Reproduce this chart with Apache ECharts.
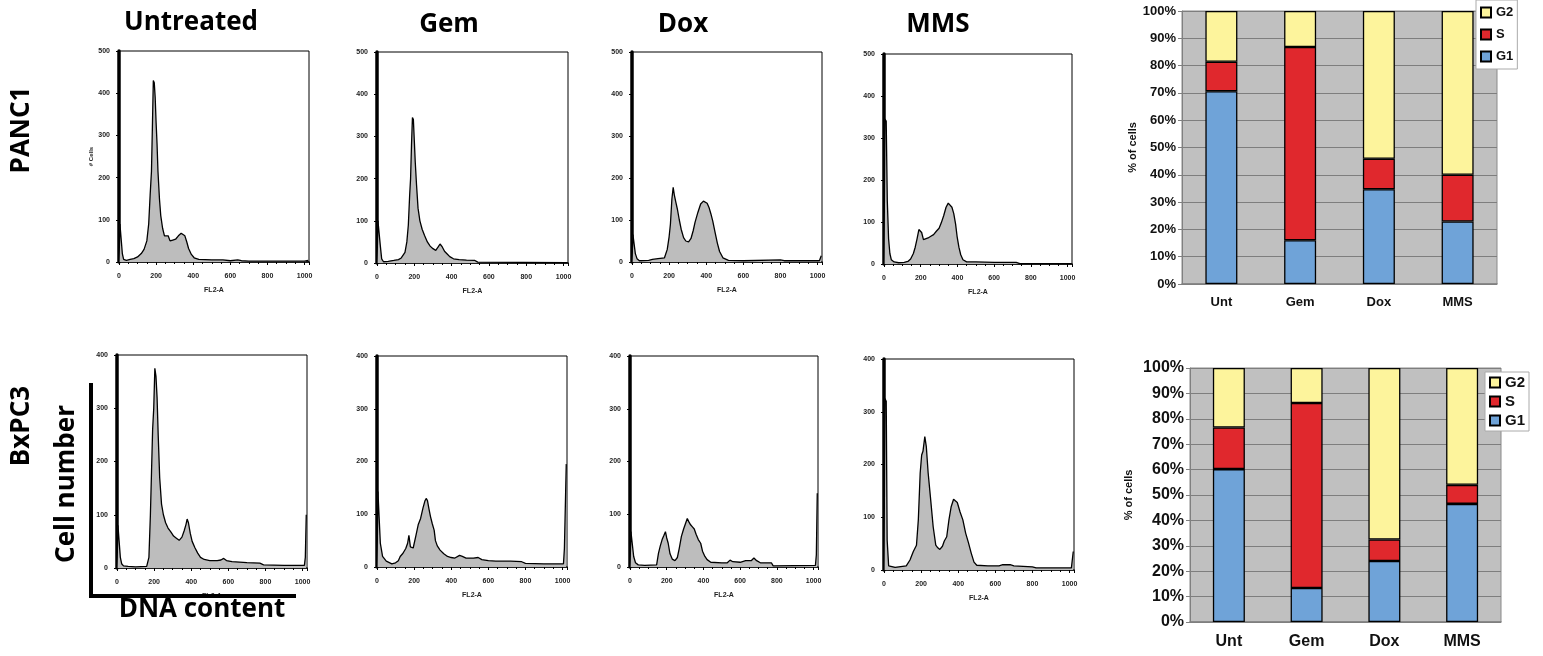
<!DOCTYPE html>
<html>
<head>
<meta charset="utf-8">
<script src="https://cdn.jsdelivr.net/npm/echarts@6/dist/echarts.min.js"></script>
<style>
  html, body { margin: 0; padding: 0; background: #fff; }
  #main { width: 1543px; height: 656px; }
</style>
</head>
<body>
<div id="main"></div>
<script>
// histogram data, [channel FL2-A, # cells]
const panc1Unt = [[0,0],[5,90],[12,88],[18,20],[25,6],[40,4],[60,6],[80,8],[100,12],[120,20],[135,30],[150,50],[160,90],[168,160],[175,215],[180,320],[185,430],[190,425],[195,390],[200,330],[205,280],[210,215],[218,150],[225,110],[235,80],[245,62],[255,58],[265,62],[275,50],[290,52],[305,54],[320,62],[335,68],[345,72],[355,62],[365,48],[375,32],[390,18],[405,10],[430,6],[500,5],[560,5],[600,3],[640,5],[660,3],[700,2],[1000,2],[1020,4]];
const panc1Gem = [[0,0],[5,100],[12,100],[18,40],[25,10],[35,3],[60,4],[90,6],[115,8],[130,12],[150,25],[160,50],[168,90],[175,160],[180,200],[185,280],[190,345],[195,340],[200,290],[205,240],[212,185],[220,130],[230,100],[242,80],[255,65],[270,50],[285,40],[300,34],[315,30],[328,38],[338,45],[350,38],[362,28],[375,22],[390,15],[410,10],[440,8],[480,7],[525,6],[540,2],[1020,1]];
const panc1Dox = [[0,0],[5,65],[12,65],[18,20],[27,8],[40,3],[90,4],[110,6],[140,8],[175,10],[190,30],[200,60],[207,90],[215,150],[222,178],[228,160],[235,145],[245,125],[255,100],[265,78],[278,58],[290,50],[305,48],[318,56],[330,75],[340,95],[355,118],[370,138],[385,145],[395,148],[405,140],[415,130],[425,115],[435,98],[448,70],[460,45],[472,25],[490,10],[520,4],[600,3],[800,5],[820,3],[1010,3],[1020,15]];
const panc1Mms = [[0,0],[5,345],[12,340],[18,150],[25,60],[32,25],[40,10],[55,5],[80,3],[110,4],[130,6],[145,12],[160,25],[170,40],[180,60],[190,82],[198,85],[205,75],[215,58],[225,55],[240,62],[255,66],[270,70],[285,78],[300,85],[312,98],[325,115],[338,135],[350,145],[360,142],[370,135],[380,120],[390,95],[398,66],[408,40],[418,22],[430,10],[450,5],[500,5],[600,4],[720,4],[740,1],[1020,1]];
const bxpc3Unt = [[0,0],[5,80],[12,78],[18,20],[25,8],[35,4],[60,3],[100,2],[160,3],[172,20],[180,100],[186,180],[192,260],[198,300],[204,375],[210,360],[216,320],[222,250],[230,170],[240,120],[250,100],[262,85],[275,75],[290,68],[305,60],[320,56],[335,52],[350,58],[362,70],[372,82],[378,92],[385,85],[395,65],[405,50],[420,38],[435,28],[450,20],[470,16],[500,14],[540,14],[560,15],[575,18],[590,14],[620,12],[700,10],[770,9],[790,6],[900,5],[1010,5],[1015,20],[1020,100]];
const bxpc3Gem = [[0,0],[5,143],[12,140],[18,45],[30,20],[50,11],[80,6],[100,8],[115,12],[125,20],[140,26],[155,35],[165,45],[172,60],[180,38],[195,36],[210,60],[222,80],[235,92],[248,112],[258,125],[265,130],[272,126],[280,110],[288,96],[298,82],[308,70],[315,50],[325,40],[340,32],[360,25],[380,20],[400,18],[420,17],[445,22],[460,20],[480,17],[520,17],[545,18],[565,14],[600,12],[640,11],[720,11],[780,10],[800,7],[900,6],[1005,6],[1010,35],[1020,195]];
const bxpc3Dox = [[0,0],[5,67],[12,65],[20,20],[30,8],[45,4],[80,3],[145,4],[155,26],[165,40],[175,52],[185,60],[193,67],[200,55],[208,45],[218,25],[230,15],[245,12],[258,18],[268,35],[280,58],[292,72],[302,82],[312,92],[320,86],[330,80],[340,76],[350,72],[360,62],[372,52],[385,45],[395,30],[408,20],[420,14],[440,9],[500,8],[530,8],[545,13],[560,10],[600,9],[630,12],[660,12],[675,17],[690,12],[710,8],[770,8],[780,2],[1010,3],[1015,23],[1020,140]];
const bxpc3Mms = [[0,0],[5,325],[12,320],[17,57],[25,8],[60,5],[120,8],[140,19],[158,35],[175,47],[185,95],[195,184],[203,218],[210,225],[220,253],[228,234],[238,184],[250,139],[265,82],[279,47],[290,42],[301,39],[315,45],[325,55],[338,63],[350,95],[362,120],[375,134],[385,136],[395,128],[410,110],[425,95],[440,70],[455,52],[470,32],[485,15],[500,9],[560,8],[620,8],[640,10],[680,10],[700,8],[800,6],[820,4],[1010,4],[1020,35]];

// cell cycle distribution (% of cells)
const treatments = ['Unt', 'Gem', 'Dox', 'MMS'];
const panc1G1 = [70.6, 16.0, 34.7, 22.9];
const panc1S = [10.8, 70.8, 11.2, 17.1];
const panc1G2 = [18.6, 13.2, 54.1, 60.0];
const bxpc3G1 = [60.2, 13.4, 24.0, 46.5];
const bxpc3S = [16.4, 72.8, 8.5, 7.5];
const bxpc3G2 = [23.4, 13.8, 67.5, 46.0];

const chart = echarts.init(document.getElementById('main'));

const histData = [panc1Unt, panc1Gem, panc1Dox, panc1Mms, bxpc3Unt, bxpc3Gem, bxpc3Dox, bxpc3Mms];
const histGrids = [
  { left: 119, top: 51, width: 190, height: 211 },
  { left: 377, top: 52, width: 191, height: 211 },
  { left: 632, top: 52, width: 190, height: 210 },
  { left: 884, top: 54, width: 188, height: 210 },
  { left: 117, top: 355, width: 190, height: 213 },
  { left: 377, top: 356, width: 190, height: 211 },
  { left: 630, top: 356, width: 188, height: 211 },
  { left: 884, top: 359, width: 190, height: 211 }
];

const tickFont = { fontSize: 7, fontWeight: 'bold', color: '#222', fontFamily: 'Liberation Sans' };
const plain = function (v) { return String(v); };

const grids = [], xAxes = [], yAxes = [], series = [];

histGrids.forEach(function (g, i) {
  grids.push(Object.assign({ show: true, borderColor: '#000', borderWidth: 1, backgroundColor: '#fff' }, g));
  xAxes.push({
    type: 'value', gridIndex: i, min: 0, max: 1024, interval: 200,
    name: 'FL2-A', nameLocation: 'middle', nameGap: 25,
    nameTextStyle: tickFont,
    axisLine: { lineStyle: { color: '#000', width: 1.5 } },
    axisTick: { lineStyle: { color: '#000' }, length: 3 },
    minorTick: { show: true, splitNumber: 4, length: 2, lineStyle: { color: '#000' } },
    axisLabel: Object.assign({ margin: 11, showMaxLabel: false, formatter: plain }, tickFont),
    splitLine: { show: false }
  });
  yAxes.push({
    type: 'value', gridIndex: i, min: 0, max: i < 4 ? 500 : 400, interval: 100,
    name: i === 0 ? '# Cells' : '', nameLocation: 'middle', nameGap: 24,
    nameTextStyle: { fontSize: 6, fontWeight: 'bold', color: '#222' },
    axisLine: { lineStyle: { color: '#000', width: 3.5 } },
    axisTick: { lineStyle: { color: '#000' }, length: 3 },
    axisLabel: Object.assign({ margin: 9, formatter: plain }, tickFont),
    splitLine: { show: false }
  });
  series.push({
    type: 'line', xAxisIndex: i, yAxisIndex: i, data: histData[i],
    showSymbol: false, silent: true,
    lineStyle: { color: '#000', width: 1.3 },
    areaStyle: { color: '#bdbdbd', opacity: 1 }
  });
});

// stacked percentage bars
const barGrids = [
  { left: 1182, top: 11, width: 315, height: 273, font: 13, gap: 40 },
  { left: 1190, top: 368, width: 311, height: 254, font: 16, gap: 56 }
];
const barSets = [[panc1G1, panc1S, panc1G2], [bxpc3G1, bxpc3S, bxpc3G2]];
const phaseNames = ['G1', 'S', 'G2'];
const phaseColors = ['#6fa3d8', '#e0282d', '#fdf49c'];

barGrids.forEach(function (g, k) {
  const gi = grids.length;
  grids.push({ show: true, left: g.left, top: g.top, width: g.width, height: g.height,
    backgroundColor: '#c0c0c0', borderColor: '#8a8a8a', borderWidth: 1 });
  xAxes.push({
    type: 'category', gridIndex: gi, data: treatments,
    axisLine: { lineStyle: { color: '#808080', width: 1.5 } },
    axisTick: { alignWithLabel: false, length: 5, lineStyle: { color: '#808080' } },
    axisLabel: { fontSize: g.font, fontWeight: 'bold', color: '#111', fontFamily: 'Liberation Sans', margin: 12 }
  });
  yAxes.push({
    type: 'value', gridIndex: gi, min: 0, max: 100, interval: 10,
    name: '% of cells', nameLocation: 'middle', nameGap: g.gap,
    nameTextStyle: { fontSize: 11, fontWeight: 'bold', color: '#111', fontFamily: 'Liberation Sans' },
    axisLine: { show: true, lineStyle: { color: '#808080' } },
    axisTick: { show: true, length: 4, lineStyle: { color: '#808080' } },
    axisLabel: { formatter: '{value}%', fontSize: g.font, fontWeight: 'bold', color: '#111', fontFamily: 'Liberation Sans', margin: 6 },
    splitLine: { lineStyle: { color: '#7e7e7e', width: 1.2 } }
  });
  barSets[k].forEach(function (vals, p) {
    series.push({
      type: 'bar', name: phaseNames[p], xAxisIndex: gi, yAxisIndex: gi, stack: 'cells' + k,
      data: vals, barWidth: 32, silent: true,
      itemStyle: { color: phaseColors[p], borderColor: '#000', borderWidth: 1.3 }
    });
  });
});

const bigFont = 'bold 26px "Open Sans"';
function label(text, x, y, rot) {
  return { type: 'text', x: x, y: y, rotation: rot || 0, z: 100,
    style: { text: text, font: bigFont, fill: '#000', textAlign: 'center', textVerticalAlign: 'middle' } };
}

chart.setOption({
  animation: false,
  grid: grids,
  xAxis: xAxes,
  yAxis: yAxes,
  series: series,
  legend: [
    { orient: 'vertical', left: 1476, top: 0, data: ['G2', 'S', 'G1'], icon: 'rect',
      itemWidth: 10, itemHeight: 10, itemGap: 9, padding: [6, 4, 6, 4],
      backgroundColor: '#fff', borderColor: '#aaa', borderWidth: 1,
      textStyle: { fontSize: 13, fontWeight: 'bold', color: '#111', fontFamily: 'Liberation Sans' } },
    { orient: 'vertical', left: 1485, top: 372, data: ['G2', 'S', 'G1'], icon: 'rect',
      itemWidth: 10, itemHeight: 10, itemGap: 4, padding: [3, 4, 3, 4],
      backgroundColor: '#fff', borderColor: '#aaa', borderWidth: 1,
      textStyle: { fontSize: 15, fontWeight: 'bold', color: '#111', fontFamily: 'Liberation Sans' } }
  ],
  graphic: [
    label('Untreated', 191, 23),
    label('Gem', 449, 25),
    label('Dox', 683, 25),
    label('MMS', 938, 25),
    label('PANC1', 22, 130, Math.PI / 2),
    label('BxPC3', 22, 426, Math.PI / 2),
    label('Cell number', 67, 484, Math.PI / 2),
    label('DNA content', 202, 610),
    { type: 'polyline', z: 100, shape: { points: [[91, 383], [91, 596], [296, 596]] },
      style: { stroke: '#000', lineWidth: 4, fill: null } }
  ]
});
</script>
</body>
</html>
